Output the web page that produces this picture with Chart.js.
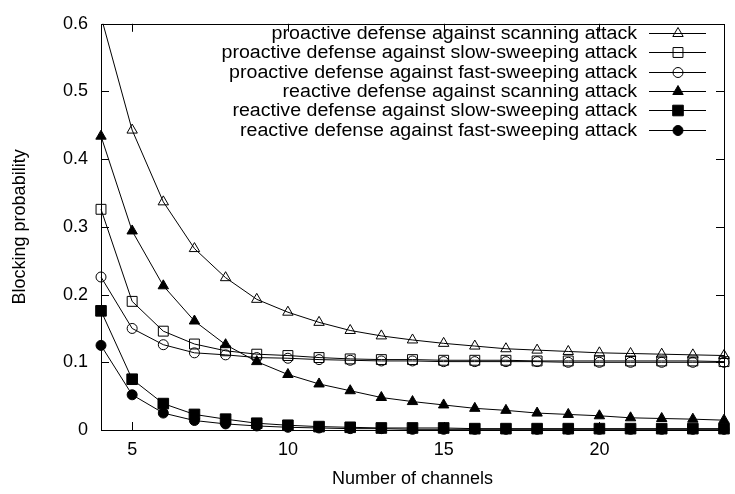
<!DOCTYPE html>
<html>
<head>
<meta charset="utf-8">
<script src="https://cdn.jsdelivr.net/npm/chart.js@4/dist/chart.umd.min.js"></script>
<style>
  html, body { margin: 0; padding: 0; background: #fff; }
  #wrap { width: 735px; height: 494px; }
</style>
</head>
<body>
<div id="wrap"><canvas id="c" width="735" height="494"></canvas></div>
<script>
// ---- data ----
const channels = [4,5,6,7,8,9,10,11,12,13,14,15,16,17,18,19,20,21,22,23,24];
const proactiveScanning = [0.611,0.443,0.337,0.268,0.225,0.193,0.174,0.159,0.147,0.139,0.133,0.128,0.124,0.120,0.118,0.116,0.114,0.113,0.112,0.111,0.110];
const proactiveSlow     = [0.326,0.190,0.146,0.127,0.117,0.112,0.110,0.107,0.105,0.104,0.104,0.103,0.103,0.103,0.102,0.102,0.102,0.102,0.102,0.102,0.101];
const proactiveFast     = [0.226,0.150,0.126,0.114,0.111,0.107,0.106,0.104,0.103,0.102,0.102,0.101,0.101,0.101,0.101,0.100,0.100,0.100,0.100,0.100,0.100];
const reactiveScanning  = [0.434,0.294,0.213,0.161,0.126,0.101,0.082,0.068,0.058,0.048,0.042,0.037,0.032,0.029,0.025,0.023,0.021,0.018,0.017,0.016,0.0145];
const reactiveSlow      = [0.176,0.075,0.039,0.023,0.016,0.010,0.007,0.005,0.004,0.003,0.003,0.003,0.002,0.002,0.002,0.002,0.002,0.002,0.002,0.002,0.002];
const reactiveFast      = [0.125,0.052,0.025,0.014,0.009,0.006,0.004,0.003,0.002,0.002,0.001,0.001,0.001,0.001,0.001,0.001,0.001,0.001,0.001,0.001,0.001];
const seriesLabels = [
  'proactive defense against scanning attack',
  'proactive defense against slow-sweeping attack',
  'proactive defense against fast-sweeping attack',
  'reactive defense against scanning attack',
  'reactive defense against slow-sweeping attack',
  'reactive defense against fast-sweeping attack'
];
const xTicks = [5,10,15,20];
const yTicks = [0,0.1,0.2,0.3,0.4,0.5,0.6];
const xTitle = 'Number of channels';
const yTitle = 'Blocking probability';

const FONT = 'Liberation Sans, Arial, Helvetica, sans-serif';
const seriesValues = [proactiveScanning, proactiveSlow, proactiveFast, reactiveScanning, reactiveSlow, reactiveFast];
const styles = [
  {shape:'triangle', filled:false, r:6},
  {shape:'rect', filled:false, r:7},
  {shape:'circle', filled:false, r:5},
  {shape:'triangle', filled:true, r:6},
  {shape:'rect', filled:true, r:7.5},
  {shape:'circle', filled:true, r:5}
];

const datasets = seriesValues.map((vals, i) => ({
  label: seriesLabels[i],
  data: channels.map((c, j) => ({x: c, y: vals[j]})),
  borderColor: '#000',
  borderWidth: 1,
  backgroundColor: styles[i].filled ? '#000' : 'rgba(0,0,0,0)',
  pointStyle: styles[i].shape,
  pointRadius: styles[i].r,
  pointHoverRadius: styles[i].r,
  pointBorderColor: '#000',
  pointBackgroundColor: styles[i].filled ? '#000' : 'rgba(0,0,0,0)',
  pointBorderWidth: 1,
  tension: 0,
  fill: false,
  clip: i === 0 ? {left: false, top: 0, right: false, bottom: false} : false
}));

function drawMarker(ctx, shape, filled, x, y, r) {
  ctx.beginPath();
  if (shape === 'circle') {
    ctx.arc(x, y, r, 0, Math.PI * 2);
  } else if (shape === 'rect') {
    const s = Math.SQRT1_2 * r;
    ctx.rect(x - s, y - s, 2 * s, 2 * s);
  } else {
    let a = 0;
    ctx.moveTo(x + Math.sin(a) * r, y - Math.cos(a) * r);
    a += 2 * Math.PI / 3;
    ctx.lineTo(x + Math.sin(a) * r, y - Math.cos(a) * r);
    a += 2 * Math.PI / 3;
    ctx.lineTo(x + Math.sin(a) * r, y - Math.cos(a) * r);
    ctx.closePath();
  }
  if (filled) { ctx.fillStyle = '#000'; ctx.fill(); }
  ctx.strokeStyle = '#000';
  ctx.lineWidth = 1;
  ctx.stroke();
}

const framePlugin = {
  id: 'frame',
  afterDatasetsDraw(chart) {
    const ctx = chart.ctx;
    const a = chart.chartArea;
    const xs = chart.scales.x, ys = chart.scales.y;
    ctx.save();
    ctx.strokeStyle = '#000';
    ctx.lineWidth = 1;
    ctx.strokeRect(Math.round(a.left) + 0.5, Math.round(a.top) + 0.5,
                   Math.round(a.right - a.left), Math.round(a.bottom - a.top));
    const TL = 8;
    ctx.beginPath();
    xTicks.forEach(v => {
      const px = Math.round(xs.getPixelForValue(v)) + 0.5;
      ctx.moveTo(px, a.bottom); ctx.lineTo(px, a.bottom - TL);
      ctx.moveTo(px, a.top); ctx.lineTo(px, a.top + TL);
    });
    yTicks.forEach(v => {
      const py = Math.round(ys.getPixelForValue(v)) + 0.5;
      ctx.moveTo(a.left, py); ctx.lineTo(a.left + TL, py);
      ctx.moveTo(a.right, py); ctx.lineTo(a.right - TL, py);
    });
    ctx.stroke();

    // legend (key) top right
    const textRight = 637, lineL = 649, lineR = 706, markX = 678;
    const y0 = 33, dy = 19.3;
    ctx.font = '18px ' + FONT;
    ctx.fillStyle = '#000';
    ctx.textAlign = 'right';
    ctx.textBaseline = 'middle';
    datasets.forEach((ds, i) => {
      const y = Math.round(y0 + i * dy);
      ctx.save();
      ctx.translate(textRight, y + 1);
      ctx.scale(1.09, 1);
      ctx.fillText(ds.label, 0, 0);
      ctx.restore();
      ctx.beginPath();
      ctx.moveTo(lineL, y + 0.5); ctx.lineTo(lineR, y + 0.5);
      ctx.strokeStyle = '#000'; ctx.lineWidth = 1; ctx.stroke();
      drawMarker(ctx, styles[i].shape, styles[i].filled, markX, y + 0.5, styles[i].r);
    });
    ctx.restore();
  }
};

new Chart(document.getElementById('c'), {
  type: 'line',
  data: { datasets },
  options: {
    responsive: false,
    animation: false,
    devicePixelRatio: 1,
    layout: { padding: { top: 14, right: 11, left: 0, bottom: 0 } },
    plugins: { legend: { display: false }, tooltip: { enabled: false } },
    scales: {
      x: {
        type: 'linear',
        min: 4, max: 24,
        afterFit(s) { s.height = 64; },
        afterBuildTicks(s) { s.ticks = xTicks.map(v => ({value: v})); },
        grid: { display: false, drawTicks: false },
        border: { display: false },
        ticks: { color: '#000', padding: 9, maxRotation: 0, autoSkip: false,
                 font: { family: FONT, size: 18 } },
        title: { display: true, text: xTitle, color: '#000',
                 font: { family: FONT, size: 18 }, padding: { top: 4, bottom: 4 } }
      },
      y: {
        type: 'linear',
        min: 0, max: 0.6,
        afterFit(s) { s.width = 101; },
        afterBuildTicks(s) { s.ticks = yTicks.map(v => ({value: v})); },
        grid: { display: false, drawTicks: false },
        border: { display: false },
        ticks: { color: '#000', padding: 13, autoSkip: false,
                 font: { family: FONT, size: 18 },
                 callback: v => (v === 0 ? '0' : Number(v).toFixed(1)) },
        title: { display: true, text: yTitle, color: '#000',
                 font: { family: FONT, size: 18 }, padding: { top: 9, bottom: 4 } }
      }
    }
  },
  plugins: [framePlugin]
});
</script>
</body>
</html>
